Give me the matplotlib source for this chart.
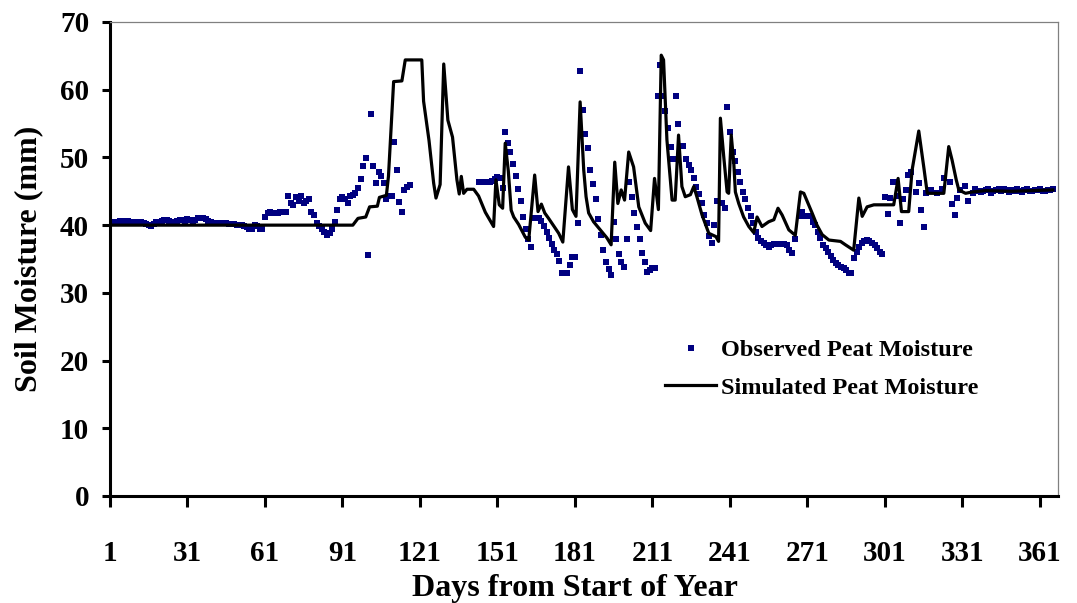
#!/usr/bin/env python3
"""
Observed vs simulated peat soil moisture over one year.

Output
------
- out.png
"""

import matplotlib
matplotlib.use("Agg")
import matplotlib.pyplot as plt
from matplotlib.lines import Line2D

OUTPUT = "out.png"
FIG_W_PX, FIG_H_PX, FIG_DPI = 1077, 603, 100

FONT = "Liberation Serif"
NAVY = "#000080"

# Plot-area edges in pixels (left, right, bottom, top)
_AX_L, _AX_R, _AX_B, _AX_T = 110, 1058, 496, 22
X_MIN, X_MAX = 1, 368

X_TICKS = [1, 31, 61, 91, 121, 151, 181, 211, 241, 271, 301, 331, 361]
Y_TICKS = [0, 10, 20, 30, 40, 50, 60, 70]

# Observed peat moisture (mm), one reading per listed day
OBS_DAY = (list(range(1, 62)) + list(range(62, 118)) + list(range(144, 177))
           + list(range(178, 222)) + list(range(223, 237)) + list(range(238, 267))
           + [268, 269, 270] + list(range(272, 312)) + list(range(313, 318))
           + [319, 321, 323, 324] + list(range(326, 331)) + [332, 333]
           + list(range(335, 367)))
OBS_MM = [
    # 1-61
    40.3, 40.4, 40.5, 40.5, 40.6, 40.6, 40.6, 40.6, 40.5, 40.5,
    40.5, 40.4, 40.4, 40.3, 40.2, 40.0, 39.9, 40.2, 40.4, 40.5,
    40.6, 40.7, 40.7, 40.6, 40.5, 40.5, 40.6, 40.8, 40.7, 40.6,
    40.9, 40.7, 40.5, 40.8, 41.0, 41.0, 41.0, 40.9, 40.6, 40.4,
    40.3, 40.3, 40.3, 40.3, 40.3, 40.3, 40.2, 40.2, 40.1, 40.0,
    40.0, 40.0, 39.9, 39.7, 39.5, 39.5, 40.0, 39.8, 39.5, 39.4,
    41.2,
    # 62-117
    41.8, 42.0, 41.8, 41.8, 41.8, 41.9, 42.0, 42.0, 44.3, 43.2,
    43.0, 44.2, 43.6, 44.3, 43.2, 43.6, 43.8, 42.0, 41.5, 40.3,
    39.8, 39.5, 39.0, 38.6, 38.8, 39.5, 40.4, 42.2, 43.8, 44.2,
    43.8, 43.3, 44.3, 44.5, 44.7, 45.5, 46.8, 48.7, 49.9, 35.6,
    56.4, 48.7, 46.2, 47.9, 47.2, 46.2, 43.8, 44.3, 44.3, 52.3,
    48.1, 43.4, 41.9, 45.2, 45.6, 45.9,
    # 144-176
    46.4, 46.4, 46.4, 46.4, 46.4, 46.5, 46.8, 47.1, 46.9, 45.5,
    53.8, 52.2, 50.8, 49.1, 47.3, 45.4, 43.5, 41.2, 39.4, 37.9,
    36.7, 41.1, 41.1, 41.0, 40.6, 39.8, 39.0, 38.1, 37.2, 36.4,
    35.7, 34.7, 32.9,
    # 178-221
    32.9, 34.1, 35.3, 35.3, 40.3, 62.8, 57.0, 53.4, 51.4, 48.1,
    46.1, 43.8, 40.9, 38.5, 36.4, 34.6, 33.5, 32.6, 40.5, 37.9,
    35.8, 34.6, 33.8, 37.9, 46.4, 44.1, 41.8, 39.7, 37.9, 35.9,
    34.5, 33.1, 33.4, 33.6, 33.7, 59.0, 63.7, 59.0, 56.9, 54.3,
    51.6, 49.7, 59.0, 54.9,
    # 223-236
    51.7, 49.7, 48.9, 48.1, 47.0, 45.6, 44.6, 43.2, 41.5, 40.3,
    38.4, 37.4, 40.0, 43.5,
    # 238-266
    43.2, 42.6, 57.5, 53.8, 50.8, 49.4, 47.9, 46.4, 44.9, 43.8,
    42.5, 41.3, 40.3, 39.0, 38.1, 37.6, 37.4, 37.0, 36.8, 37.0,
    37.2, 37.2, 37.2, 37.2, 37.2, 37.1, 36.3, 35.9, 37.9,
    # 268-270
    41.3, 42.0, 41.3,
    # 272-311
    41.3, 40.4, 40.0, 39.0, 38.1, 37.1, 36.6, 36.1, 35.4, 34.9,
    34.4, 34.1, 33.8, 33.6, 33.4, 33.0, 32.9, 35.1, 36.0, 36.8,
    37.3, 37.6, 37.8, 37.6, 37.3, 37.0, 36.6, 36.1, 35.8, 44.1,
    41.7, 44.0, 46.3, 46.4, 44.3, 40.3, 43.8, 45.2, 47.4, 47.9,
    # 313-317
    44.9, 46.2, 42.3, 39.7, 44.7,
    # 319, 321, 323, 324
    45.2, 44.7, 45.4, 46.9,
    # 326-330
    46.4, 43.1, 41.5, 44.0, 45.2,
    # 332, 333
    45.8, 43.5,
    # 335-366
    44.7, 45.4, 45.1, 44.9, 45.0, 45.2, 45.3, 44.7, 45.0, 45.2,
    45.3, 45.1, 45.4, 45.2, 44.9, 45.2, 45.0, 45.3, 45.1, 44.9,
    45.2, 45.3, 45.1, 45.0, 45.2, 45.2, 45.3, 45.1, 45.0, 45.2,
    45.2, 45.3,
]

# Simulated peat moisture (mm), vertices of the model trace
SIM_DAY = [
    1, 95, 97, 100, 101.5, 104.5, 105.3, 108, 108.8, 110.8,
    114, 115.3, 121.7, 122.4, 124.5, 126.3, 127.2, 128.8, 130.2, 131.8,
    133.6, 135.3, 136.2, 137.0, 137.9, 139.2, 141.8, 143.7, 146.3, 149.5,
    150.4, 151.7, 153, 154, 155.2, 156.3, 157.3, 159.2, 161.8, 163.1,
    165.4, 166.7, 168, 169.3, 170.8, 174.7, 176.3, 178.5, 180, 181.4,
    183, 184.4, 185.3, 186.3, 188.2, 190.8, 193.4, 195, 196.4, 197.6,
    198.9, 200.2, 201.8, 203.7, 205.7, 208.2, 210.3, 211.8, 213.3, 214.4,
    215.3, 216.6, 218.6, 219.8, 221.1, 222.4, 223.7, 225.7, 227, 228.2,
    230.2, 232.8, 235.6, 236.6, 237.3, 238.6, 239.9, 240.5, 241.5, 242.5,
    243.1, 244.4, 246.3, 248.3, 250.2, 251.5, 253.4, 256, 258, 259.6,
    261.2, 263.8, 266.3, 268.3, 269.6, 271.5, 272.8, 274.7, 276.7, 279.3,
    283.8, 285.7, 288.9, 290.9, 292.2, 294.1, 296.7, 304.4, 306.1, 307.4,
    310.2, 311.5, 314.1, 316.1, 317.4, 323.8, 325.7, 327, 328.6, 329.6,
    332.2, 334.8, 340, 350, 366,
]
SIM_MM = [
    40.0, 40.0, 41.0, 41.2, 42.7, 42.8, 44.1, 44.4, 47.2, 61.2,
    61.3, 64.4, 64.4, 58.3, 52.5, 46.2, 44.0, 46.0, 63.8, 55.5,
    53.0, 46.7, 44.6, 47.2, 44.7, 45.3, 45.3, 44.3, 41.9, 39.8,
    46.7, 43.0, 42.5, 52.1, 48.0, 42.2, 41.2, 40.1, 38.2, 37.8,
    47.4, 42.0, 43.1, 41.8, 41.0, 38.8, 37.5, 48.6, 42.3, 41.3,
    58.2, 48.1, 44.2, 41.8, 40.5, 39.3, 38.1, 37.1, 49.3, 43.2,
    45.2, 43.7, 50.8, 48.6, 42.7, 40.3, 39.2, 46.9, 42.3, 65.1,
    64.4, 52.6, 43.7, 43.7, 53.3, 45.7, 44.2, 44.5, 45.7, 44.2,
    41.5, 38.8, 38.3, 37.6, 55.8, 50.1, 44.9, 44.7, 53.3, 49.1,
    44.9, 43.2, 41.2, 39.8, 38.9, 41.2, 39.8, 40.5, 40.8, 42.5,
    41.5, 39.3, 38.5, 44.9, 44.7, 43.0, 41.8, 40.0, 38.6, 37.8,
    37.6, 37.1, 36.3, 44.0, 41.3, 42.7, 43.0, 43.0, 46.9, 42.0,
    42.0, 48.1, 53.9, 48.4, 44.7, 44.7, 51.6, 49.6, 46.7, 45.2,
    44.7, 44.9, 45.1, 45.0, 45.2,
]

LABELS = ["Observed Peat Moisture", "Simulated Peat Moisture"]


def main() -> None:
    assert len(OBS_DAY) == len(OBS_MM), (len(OBS_DAY), len(OBS_MM))
    assert len(SIM_DAY) == len(SIM_MM), (len(SIM_DAY), len(SIM_MM))

    plt.rcParams["font.family"] = FONT
    plt.rcParams["font.weight"] = "bold"

    fig = plt.figure(figsize=(FIG_W_PX / FIG_DPI, FIG_H_PX / FIG_DPI), dpi=FIG_DPI)
    ax = fig.add_axes([
        _AX_L / FIG_W_PX,
        1 - _AX_B / FIG_H_PX,
        (_AX_R - _AX_L) / FIG_W_PX,
        (_AX_B - _AX_T) / FIG_H_PX,
    ])

    ax.plot(SIM_DAY, SIM_MM, color="black", linewidth=2.3, zorder=3)
    ax.plot(OBS_DAY, OBS_MM, linestyle="none", marker="s", markersize=4.9,
            color=NAVY, markeredgewidth=0, zorder=2)

    ax.set_xlim(X_MIN, X_MAX)
    ax.set_ylim(0, 70)
    ax.set_xticks(X_TICKS)
    ax.set_yticks(Y_TICKS)

    for side in ("left", "bottom"):
        ax.spines[side].set_linewidth(2.2)
        ax.spines[side].set_color("black")
    for side in ("top", "right"):
        ax.spines[side].set_linewidth(0.9)
        ax.spines[side].set_color("#808080")

    ax.tick_params(axis="x", direction="out", length=8, width=2.2,
                   pad=24, labelsize=21)
    ax.tick_params(axis="y", direction="out", length=6, width=2.2,
                   pad=9, labelsize=21)
    for lbl in ax.get_xticklabels() + ax.get_yticklabels():
        lbl.set_fontweight("bold")

    ax.set_xlabel("Days from Start of Year", fontsize=23, fontweight="bold")
    ax.xaxis.set_label_coords(0.49, -0.165)
    ax.set_ylabel("Soil Moisture (mm)", fontsize=23, fontweight="bold")
    ax.yaxis.set_label_coords(-0.07, 0.5)

    handles = [
        Line2D([], [], linestyle="none", marker="s", markersize=4.9,
               color=NAVY, markeredgewidth=0),
        Line2D([], [], color="black", linewidth=2.3),
    ]
    fig.legend(
        handles, LABELS,
        loc="upper left", bbox_to_anchor=(665 / FIG_W_PX, 1 - 339 / FIG_H_PX),
        frameon=False, borderpad=0, borderaxespad=0,
        handlelength=2.1, handletextpad=0.2, labelspacing=0.65,
        prop={"family": FONT, "weight": "bold", "size": 17.5},
    )

    fig.savefig(OUTPUT, dpi=FIG_DPI, facecolor="white")
    plt.close(fig)


if __name__ == "__main__":
    main()
